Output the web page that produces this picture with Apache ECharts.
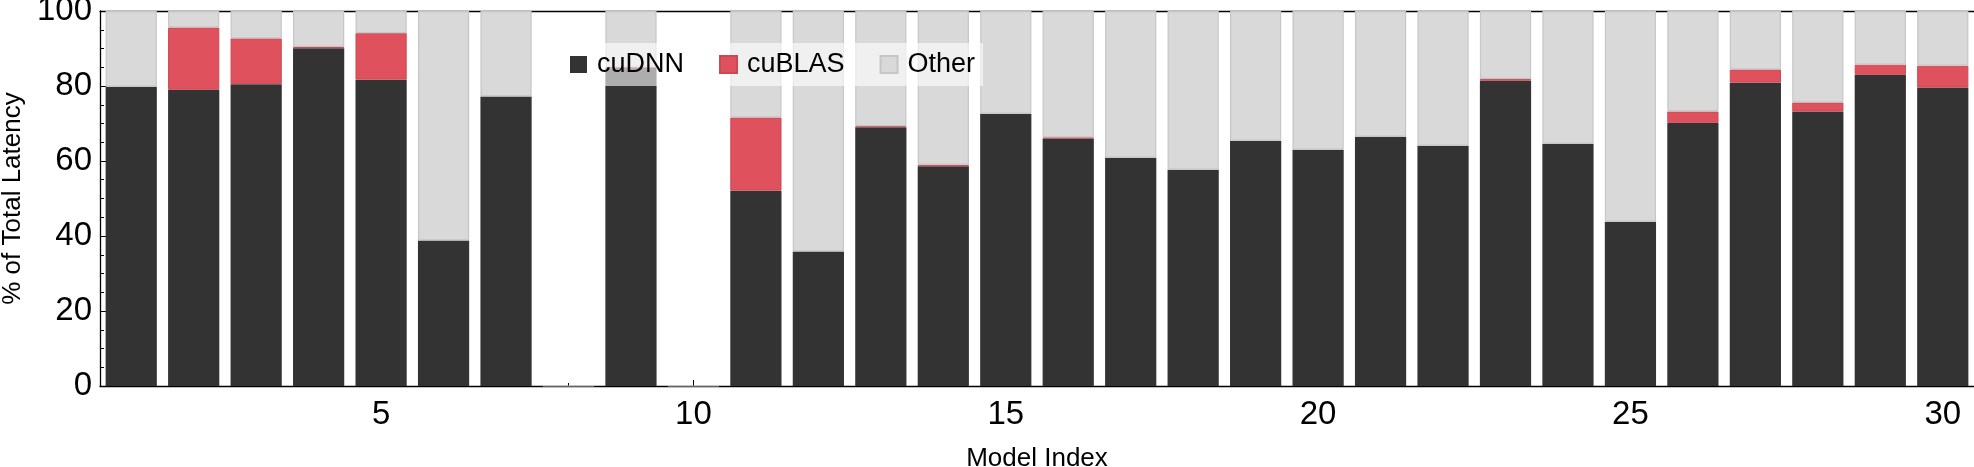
<!DOCTYPE html>
<html>
<head>
<meta charset="utf-8">
<script src="https://cdn.jsdelivr.net/npm/echarts@6/dist/echarts.min.js"></script>
<style>
html,body{margin:0;padding:0;background:#fff;}
#chart{width:1974px;height:467px;}
</style>
</head>
<body>
<div id="chart"></div>
<script>
const categories = ['1','2','3','4','5','6','7','8','9','10','11','12','13','14','15','16','17','18','19','20','21','22','23','24','25','26','27','28','29','30'];
const cuDNN  = [79.8, 79.0, 80.5, 90.1, 81.7, 38.8, 77.2, null, 84.8, null, 52.1, 35.9, 69.0, 58.6, 72.6, 66.0, 60.9, 57.7, 65.4, 63.0, 66.5, 64.1, 81.4, 64.6, 43.8, 70.2, 80.9, 73.2, 83.0, 79.6];
const cuBLAS = [null, 16.6, 12.2, 0.3, 12.4, null, null, null, 0.3, null, 19.5, null, 0.3, 0.4, null, 0.3, null, null, null, null, null, null, 0.5, null, null, 3.0, 3.5, 2.4, 2.7, 5.8];
const other  = [20.2, 4.4, 7.3, 9.6, 5.9, 61.2, 22.8, 0, 14.9, 0, 28.4, 64.1, 30.7, 41.0, 27.4, 33.7, 39.1, 42.3, 34.6, 37.0, 33.5, 35.9, 18.1, 35.4, 56.2, 26.8, 15.6, 24.4, 14.3, 14.6];
const yTicks = [0, 20, 40, 60, 80, 100];
const seriesNames = ['cuDNN', 'cuBLAS', 'Other'];

const FONT = 'Liberation Sans, Arial, Helvetica, sans-serif';
const chart = echarts.init(document.getElementById('chart'), null, {renderer: 'canvas'});

const barW = '82%';
chart.setOption({
  animation: false,
  backgroundColor: '#fff',
  textStyle: {fontFamily: FONT, color: '#000'},
  grid: {left: 100, right: 0, top: 11, bottom: 81, containLabel: false, outerBoundsMode: 'none'},
  legend: {
    data: seriesNames,
    left: 562, top: 43,
    padding: [8, 8],
    itemWidth: 17, itemHeight: 17, itemGap: 35,
    icon: 'rect',
    backgroundColor: 'rgba(255,255,255,0.6)',
    textStyle: {fontFamily: FONT, fontSize: 27, color: '#000', padding: [0, 0, 0, 5]}
  },
  xAxis: [
    {
      type: 'category', data: categories, position: 'bottom',
      name: 'Model Index', nameLocation: 'middle', nameGap: 60,
      nameTextStyle: {fontFamily: FONT, fontSize: 26, color: '#000'},
      axisLine: {show: true, lineStyle: {color: '#000', width: 1.3}},
      axisTick: {show: true, inside: true, alignWithLabel: true, interval: 0, length: 3, lineStyle: {color: '#000', width: 1}},
      axisLabel: {
        show: true, interval: function (i) { return (i + 1) % 5 === 0; },
        fontFamily: FONT, fontSize: 33, color: '#000', margin: 12
      },
      splitLine: {show: false}
    },
    {
      type: 'category', data: categories, position: 'bottom',
      axisLine: {show: false},
      axisTick: {show: true, inside: true, alignWithLabel: true, interval: function (i) { return (i + 1) % 5 === 0; }, length: 6, lineStyle: {color: '#000', width: 1}},
      axisLabel: {show: false},
      splitLine: {show: false}
    },
    {
      type: 'category', data: categories, position: 'top',
      axisLine: {show: true, lineStyle: {color: '#000', width: 1.3}},
      axisTick: {show: false},
      axisLabel: {show: false},
      splitLine: {show: false}
    }
  ],
  yAxis: {
    type: 'value', min: yTicks[0], max: yTicks[yTicks.length - 1], interval: 20,
    name: '% of Total Latency', nameLocation: 'middle', nameGap: 70,
    nameTextStyle: {fontFamily: FONT, fontSize: 26, color: '#000'},
    axisLine: {show: true, lineStyle: {color: '#000', width: 1.3}},
    axisTick: {show: true, inside: true, length: 7, lineStyle: {color: '#000', width: 1}},
    minorTick: {show: true, splitNumber: 4, length: 4, lineStyle: {color: '#000', width: 1}},
    axisLabel: {fontFamily: FONT, fontSize: 33, color: '#000', margin: 8},
    splitLine: {show: false},
    minorSplitLine: {show: false}
  },
  series: [
    {
      name: seriesNames[0], type: 'bar', stack: 'total', xAxisIndex: 0, data: cuDNN,
      barWidth: barW,
      itemStyle: {color: '#333333', borderColor: '#333333', borderWidth: 0}
    },
    {
      name: seriesNames[1], type: 'bar', stack: 'total', xAxisIndex: 0, data: cuBLAS,
      barWidth: barW,
      itemStyle: {color: '#df525d', borderColor: '#c94a54', borderWidth: 1}
    },
    {
      name: seriesNames[2], type: 'bar', stack: 'total', xAxisIndex: 0, data: other,
      barWidth: barW,
      itemStyle: {color: '#d9d9d9', borderColor: '#c6c6c6', borderWidth: 1.2}
    }
  ]
});
</script>
</body>
</html>
